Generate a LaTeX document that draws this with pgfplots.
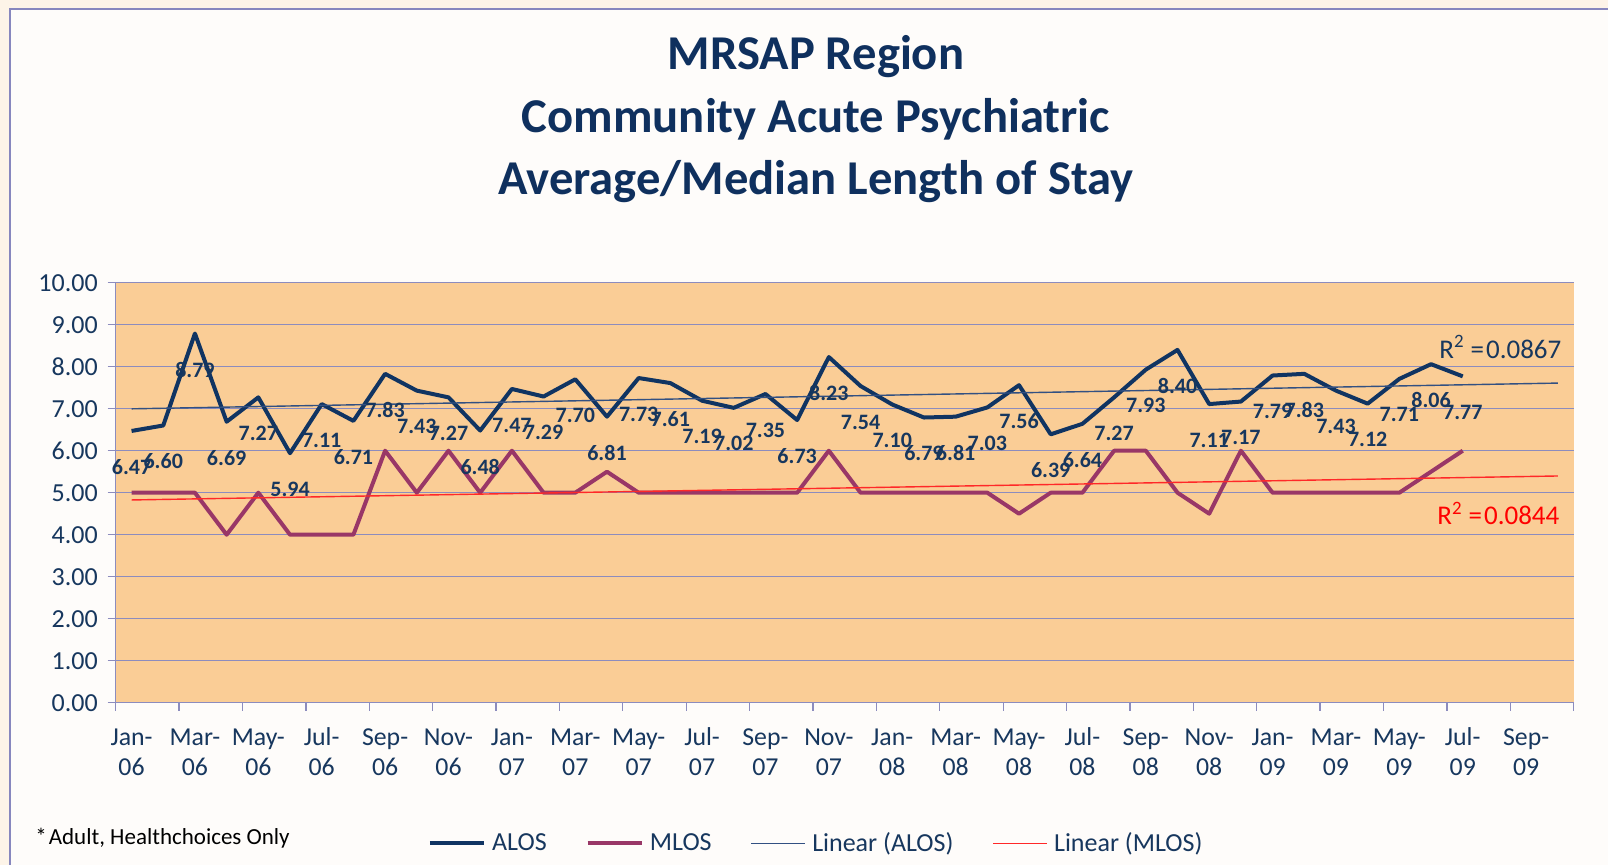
\documentclass[border=0pt]{standalone}
\usepackage{pgfplots}
\pgfplotsset{compat=1.18}
\usepackage{pgfplotstable}
\usepackage{fontspec}
\setmainfont{Carlito}
\definecolor{navytext}{RGB}{23,55,94}
\definecolor{titlec}{RGB}{15,48,94}
\definecolor{alosc}{RGB}{16,52,98}
\definecolor{mlosc}{RGB}{153,55,103}
\definecolor{trendalos}{RGB}{50,80,130}
\definecolor{trendmlos}{RGB}{255,40,40}
\definecolor{plotbg}{RGB}{250,205,150}
\definecolor{gridc}{RGB}{140,140,190}
\definecolor{pagebeige}{RGB}{253,244,232}
\definecolor{innerw}{RGB}{254,252,250}
\definecolor{borderc}{RGB}{135,135,190}

\pgfplotstableread{
x y
0 6.47
1 6.60
2 8.79
3 6.69
4 7.27
5 5.94
6 7.11
7 6.71
8 7.83
9 7.43
10 7.27
11 6.48
12 7.47
13 7.29
14 7.70
15 6.81
16 7.73
17 7.61
18 7.19
19 7.02
20 7.35
21 6.73
22 8.23
23 7.54
24 7.10
25 6.79
26 6.81
27 7.03
28 7.56
29 6.39
30 6.64
31 7.27
32 7.93
33 8.40
34 7.11
35 7.17
36 7.79
37 7.83
38 7.43
39 7.12
40 7.71
41 8.06
42 7.77
}\alosdata

\pgfplotstableread{
x y
0 5
1 5
2 5
3 4
4 5
5 4
6 4
7 4
8 6
9 5
10 6
11 5
12 6
13 5
14 5
15 5.5
16 5
17 5
18 5
19 5
20 5
21 5
22 6
23 5
24 5
25 5
26 5
27 5
28 4.5
29 5
30 5
31 6
32 6
33 5
34 4.5
35 6
36 5
37 5
38 5
39 5
40 5
41 5.5
42 6
}\mlosdata

\pgfplotstableread{
x y
0 6.997
45 7.610
}\alostrend

\pgfplotstableread{
x y
0 4.827
45 5.398
}\mlostrend

\begin{document}
\begin{tikzpicture}
\useasboundingbox (0,0) rectangle (804pt,-432.5pt);
\fill[pagebeige] (0,0) rectangle (804pt,-432.5pt);
\fill[innerw] (4.75pt,-4.35pt) rectangle (804pt,-432.5pt);
\draw[borderc, line width=1pt] (4.75pt,-432.5pt) -- (4.75pt,-4.35pt) -- (804pt,-4.35pt);

\begin{axis}[
  at={(57.85pt,-351.35pt)}, anchor=south west,
  width=729pt, height=210pt, scale only axis,
  xmin=-0.5, xmax=45.5, ymin=0, ymax=10,
  clip=false,
  axis background/.style={fill=plotbg},
  axis lines*=left,
  axis line style={gridc, line width=0.65pt},
  ymajorgrids,
  grid style={gridc, line width=0.65pt},
  tick style={gridc, line width=0.65pt},
  tick align=outside,
  major tick length=4pt,
  ytick={0,1,...,10},
  xtick={-0.5,1.5,...,45.5},
  xticklabels={},
  extra x ticks={0,2,...,44},
  extra x tick labels={\strut Jan-\\06,\strut Mar-\\06,\strut May-\\06,\strut Jul-\\06,\strut Sep-\\06,\strut Nov-\\06,
    \strut Jan-\\07,\strut Mar-\\07,\strut May-\\07,\strut Jul-\\07,\strut Sep-\\07,\strut Nov-\\07,
    \strut Jan-\\08,\strut Mar-\\08,\strut May-\\08,\strut Jul-\\08,\strut Sep-\\08,\strut Nov-\\08,
    \strut Jan-\\09,\strut Mar-\\09,\strut May-\\09,\strut Jul-\\09,\strut Sep-\\09},
  extra x tick style={major tick length=0pt, grid=none},
  /pgf/number format/.cd, fixed, fixed zerofill, precision=2, assume math mode=true,
  /pgfplots/.cd,
  yticklabel style={font=\fontsize{13}{15}\selectfont, text=navytext, inner sep=0pt, xshift=-4.8pt},
  xticklabel style={font=\fontsize{12.9}{15}\selectfont, text=navytext, align=center, anchor=north, inner sep=0pt, yshift=-10.5pt},
  legend style={at={(axis description cs:0.2139,-0.3348)}, anchor=west,
    draw=none, fill=none, inner sep=0pt,
    font=\fontsize{13}{15}\selectfont, text=navytext,
    legend columns=4,
    /tikz/every odd column/.append style={column sep=1.1pt},
    /tikz/every even column/.append style={column sep=17.5pt}},
  legend image code/.code={\draw[#1] (0pt,0pt) -- (27pt,0pt);},
]
\addplot[alosc, line width=2pt, line join=round] table[x=x,y=y] {\alosdata};
\addlegendentry{ALOS}
\addplot[mlosc, line width=2pt, line join=round] table[x=x,y=y] {\mlosdata};
\addlegendentry{MLOS}
\addplot[trendalos, line width=0.7pt] table[x=x,y=y] {\alostrend};
\addlegendentry{Linear (ALOS)}
\addplot[trendmlos, line width=0.7pt] table[x=x,y=y] {\mlostrend};
\addlegendentry{Linear (MLOS)}
\addplot[draw=none, forget plot, nodes near coords,
  every node near coord/.append style={font=\bfseries\fontsize{11}{13}\selectfont, text=navytext, anchor=center, yshift=-18pt, inner sep=0pt}]
  table[x=x,y=y] {\alosdata};
\end{axis}

\node[anchor=base, text=titlec, font=\bfseries\fontsize{24.3}{30}\selectfont] at (408pt,-34.9pt) {MRSAP Region};
\node[anchor=base, text=titlec, font=\bfseries\fontsize{24.3}{30}\selectfont] at (408pt,-66.2pt) {Community Acute Psychiatric};
\node[anchor=base, text=titlec, font=\bfseries\fontsize{24.3}{30}\selectfont] at (408pt,-97.5pt) {Average/Median Length of Stay};

\node[anchor=west, inner sep=0pt, text=navytext, font=\fontsize{13.5}{16}\selectfont] at (719.5pt,-173.5pt) {R\textsuperscript{2}\hspace{3pt}=\hspace{1pt}0.0867};
\node[anchor=west, inner sep=0pt, text=red, font=\fontsize{13.5}{16}\selectfont] at (718.5pt,-256.8pt) {R\textsuperscript{2}\hspace{3pt}=\hspace{1pt}0.0844};

\node[anchor=west, inner sep=0pt, font=\fontsize{11.5}{14}\selectfont] at (17.5pt,-419pt) {*\hspace{1pt}Adult, Healthchoices Only};
\end{tikzpicture}
\end{document}
